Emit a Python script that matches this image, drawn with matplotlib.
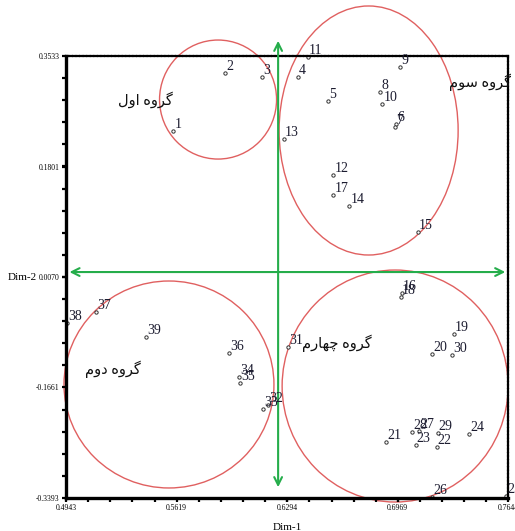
import matplotlib
matplotlib.use("Agg")
import matplotlib.pyplot as plt
from matplotlib.patches import Ellipse
from matplotlib.ticker import AutoMinorLocator, FixedLocator

# point ids and coordinates (Dim-1, Dim-2)
ids = list(range(1, 40))
dim1 = [0.5599, 0.5915, 0.6143, 0.6358, 0.6546, 0.6960, 0.6954, 0.6862, 0.6984, 0.6876,
        0.6420, 0.6577, 0.6275, 0.6674, 0.7092, 0.6996, 0.6577, 0.6990, 0.7314, 0.7182,
        0.6899, 0.7208, 0.7080, 0.7408, 0.7632, 0.7178, 0.7100, 0.7059, 0.7214, 0.7304,
        0.6302, 0.6179, 0.6149, 0.6003, 0.6006, 0.5941, 0.5125, 0.4947, 0.5430]
dim2 = [0.2363, 0.3271, 0.3209, 0.3199, 0.2833, 0.2460, 0.2416, 0.2974, 0.3356, 0.2781,
        0.3522, 0.1668, 0.2228, 0.1183, 0.0780, -0.0173, 0.1355, -0.0243, -0.0828, -0.1136,
        -0.2511, -0.2598, -0.2562, -0.2395, -0.3361, -0.3372, -0.2343, -0.2363, -0.2379, -0.1152,
        -0.1022, -0.1935, -0.2003, -0.1497, -0.1586, -0.1125, -0.0483, -0.0651, -0.0875]

x_ticks = [0.4943, 0.5619, 0.6294, 0.6969, 0.7644]
y_ticks = [-0.3393, -0.1661, 0.0070, 0.1801, 0.3533]

# group names (Persian, shaped for left-to-right drawing)
group_names = [
    "\uFEDD\uFEED\uFE8D \uFEE9\uFEED\uFEAE\uFB94",          # group 1
    "\uFEE1\uFEED\uFEA9 \uFEE9\uFEED\uFEAE\uFB94",          # group 2
    "\uFEE1\uFEEE\uFEB3 \uFEE9\uFEED\uFEAE\uFB94",          # group 3
    "\uFEE1\uFEAD\uFE8E\uFEEC\uFB7C \uFEE9\uFEED\uFEAE\uFB94",  # group 4
]
group_x = [0.5426, 0.5230, 0.7470, 0.6599]
group_y = [0.2844, -0.1371, 0.3126, -0.0964]

# cluster outlines: center x, center y, width, height
circ_cx = [0.5872, 0.5572, 0.6792, 0.6954]
circ_cy = [0.2851, -0.1614, 0.2366, -0.1638]
circ_w = [0.0715, 0.1283, 0.1094, 0.1381]
circ_h = [0.1865, 0.3243, 0.3902, 0.3635]

serif = "Liberation Serif"

fig = plt.figure(figsize=(5.15, 5.31), dpi=100)
ax = fig.add_axes([0.1282, 0.0621, 0.8583, 0.8324])
ax.set_xlim(x_ticks[0], x_ticks[-1])
ax.set_ylim(y_ticks[0], y_ticks[-1])

for side in ["left", "bottom"]:
    ax.spines[side].set_linewidth(2.4)
for side in ["top", "right"]:
    ax.spines[side].set_linewidth(1.6)
    ax.spines[side].set_linestyle((0, (1, 0.6)))

ax.xaxis.set_major_locator(FixedLocator(x_ticks))
ax.yaxis.set_major_locator(FixedLocator(y_ticks))
ax.xaxis.set_minor_locator(AutoMinorLocator(5))
ax.yaxis.set_minor_locator(AutoMinorLocator(5))
ax.set_xticklabels([f"{v:.4f}" for v in x_ticks], fontsize=5.5, family=serif)
ax.set_yticklabels([f"{v:.4f}" for v in y_ticks], fontsize=5.5, family=serif)
ax.tick_params(which="both", direction="out", length=3, width=1.6, pad=1.5)

ax.set_xlabel("Dim-1", fontsize=8, family=serif)
ax.xaxis.set_label_coords(0.5, -0.056)
ax.set_ylabel("Dim-2", fontsize=8, family=serif, rotation=0, va="center", ha="center")
ax.yaxis.set_label_coords(-0.10, 0.5)

# green axis arrows
green = "#25ad4b"
ax.annotate("", xy=(0.6239, 0.3815), xytext=(0.6239, -0.3267),
            arrowprops=dict(arrowstyle="<->", color=green, lw=1.5, mutation_scale=14),
            annotation_clip=False)
ax.annotate("", xy=(0.7644, 0.0148), xytext=(0.4947, 0.0148),
            arrowprops=dict(arrowstyle="<->", color=green, lw=1.5, mutation_scale=14),
            annotation_clip=False)

for cx, cy, w, h in zip(circ_cx, circ_cy, circ_w, circ_h):
    ax.add_patch(Ellipse((cx, cy), w, h, fill=False, edgecolor="#e06060", lw=1.0, clip_on=False))

ax.plot(dim1, dim2, linestyle="none", marker="o", markersize=2.4, markerfacecolor="white",
        markeredgecolor="#333333", markeredgewidth=0.7, clip_on=False)
for n, x, y in zip(ids, dim1, dim2):
    ax.annotate(str(n), (x, y), xytext=(0.8, 0), textcoords="offset points", ha="left", va="bottom",
                fontsize=10, family=serif, color="#1c1c30", annotation_clip=False)

for name, x, y in zip(group_names, group_x, group_y):
    ax.text(x, y, name, fontsize=10.5, family=[serif, "DejaVu Sans"], ha="center", va="center",
            color="#111111")

fig.savefig("out.png", dpi=100)
